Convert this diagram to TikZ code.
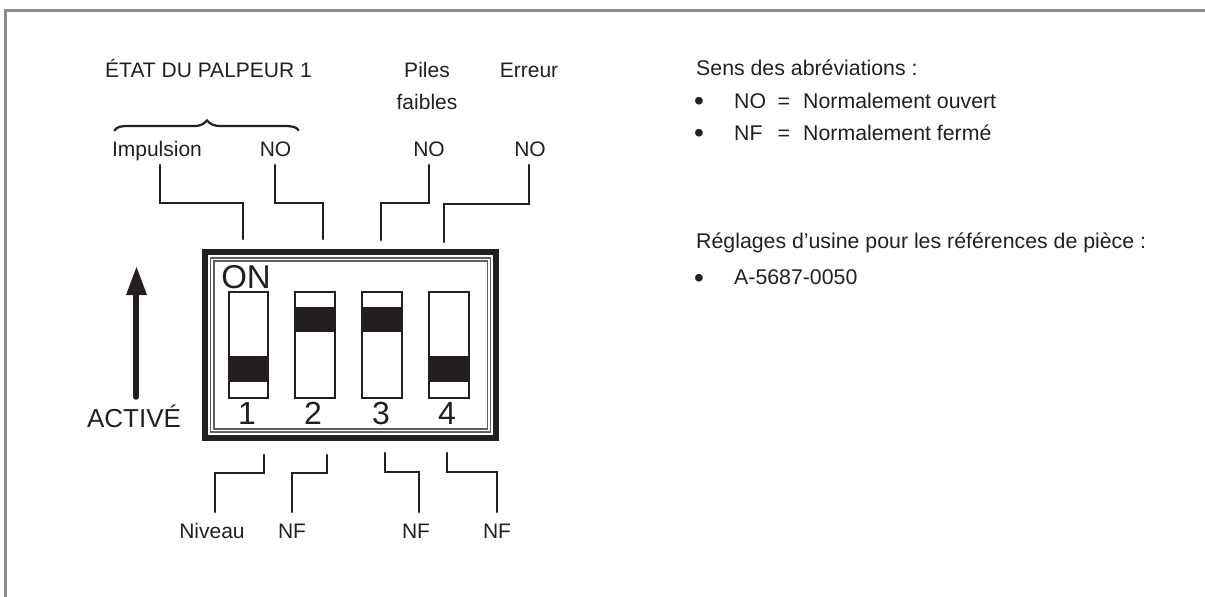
\documentclass[tikz,border=0pt]{standalone}
\usepackage{fontspec}
\setmainfont{Liberation Sans}
\usepackage{tkz-euclide}
\definecolor{TextClr}{RGB}{35,31,32}
\definecolor{FrameClr}{RGB}{140,140,140}
\definecolor{TrimClr}{RGB}{95,95,95}
\tikzset{
  LabelTxt/.style={anchor=base,inner sep=0pt,text=TextClr,font=\fontsize{21}{25}\selectfont},
  NoteTxt/.style={anchor=base west,inner sep=0pt,text=TextClr,font=\fontsize{21.3}{25}\selectfont},
  DotTxt/.style={anchor=base west,inner sep=0pt,text=TextClr,font=\fontsize{28}{32}\selectfont},
  DigitTxt/.style={anchor=base,inner sep=0pt,text=TextClr,font=\fontsize{32}{38}\selectfont},
  SwitchBox/.style={draw=TextClr,line width=2pt,fill=white},
  SliderBox/.style={fill=TextClr,draw=none},
}

\begin{document}
\begin{tikzpicture}[x=1pt,y=-1pt]
\tkzSetUpLine[line width=2.4pt,color=TextClr]
\useasboundingbox (0,0) rectangle (1205,597);

\tkzDefPoints{5.5/597/FA,5.5/10.5/FB,1205/10.5/FC}
\tkzDrawPolySeg[line width=3pt,color=FrameClr](FA,FB,FC)

\node[LabelTxt] (state) at (208.5,77) {ÉTAT DU PALPEUR 1};
\node[LabelTxt] (piles) at (427,77) {Piles};
\node[LabelTxt] (weak) at (427,109) {faibles};
\node[LabelTxt] (error) at (529,77) {Erreur};
\node[LabelTxt] (pulse) at (157,156) {Impulsion};
\node[LabelTxt] (noA) at (275.5,156) {NO};
\node[LabelTxt] (noB) at (429,156) {NO};
\node[LabelTxt] (noC) at (530,156) {NO};
\node[LabelTxt] (level) at (212,538) {Niveau};
\node[LabelTxt] (nfA) at (292,538) {NF};
\node[LabelTxt] (nfB) at (416,538) {NF};
\node[LabelTxt] (nfC) at (497,538) {NF};

\draw[line width=2.2pt,color=TextClr,line cap=round] (114.5,130.5) .. controls (117,126.5) and (122,126) .. (128,126) -- (195,126) .. controls (200,126) and (204,124) .. (207,120.5) .. controls (210,124) and (214,126) .. (220,126) -- (285,126) .. controls (292,126) and (296,127) .. (298.5,130);

\tkzDefPoints{160/165/AA,160/203/AB,243/203/AC,243/239/AD}
\tkzDefPoints{275/165/BA,275/203/BB,323/203/BC,323/239/BD}
\tkzDefPoints{429/165/CA,429/203/CB,381/203/CC,381/240/CD}
\tkzDefPoints{529/165/DA,529/204/DB,444/204/DC,444/242/DD}
\tkzDrawPolySeg(AA,AB,AC,AD)
\tkzDrawPolySeg(BA,BB,BC,BD)
\tkzDrawPolySeg(CA,CB,CC,CD)
\tkzDrawPolySeg(DA,DB,DC,DD)

\tkzDefPoints{264/455/EA,264/473/EB,215/473/EC,215/512/ED}
\tkzDefPoints{327/455/GA,327/473/GB,292/473/GC,292/512/GD}
\tkzDefPoints{385/453/HA,385/472/HB,419/472/HC,419/512/HD}
\tkzDefPoints{447/453/JA,447/472/JB,497/472/JC,497/512/JD}
\tkzDrawPolySeg(EA,EB,EC,ED)
\tkzDrawPolySeg(GA,GB,GC,GD)
\tkzDrawPolySeg(HA,HB,HC,HD)
\tkzDrawPolySeg(JA,JB,JC,JD)

\fill[TextClr] (202,249) rectangle (499,441);
\fill[white] (208,255) rectangle (493,434.5);
\draw[line width=1.6pt,color=TrimClr] (210.5,258) rectangle (490.5,432);
\draw[line width=1.6pt,color=TrimClr] (214,261) rectangle (487.5,429);

\node[DigitTxt,font=\fontsize{33}{40}\selectfont] (on) at (246,288) {ON};
\node[DigitTxt] (one) at (247,424) {1};
\node[DigitTxt] (two) at (313,424) {2};
\node[DigitTxt] (three) at (381,424) {3};
\node[DigitTxt] (four) at (447,424) {4};

\draw[SwitchBox] (228.5,291.5) rectangle (268,398);
\draw[SwitchBox] (295,291.5) rectangle (335,398);
\draw[SwitchBox] (362,291.5) rectangle (402,398);
\draw[SwitchBox] (429,291.5) rectangle (469,398);
\fill[SliderBox] (228.5,356) rectangle (268,382);
\fill[SliderBox] (295,307) rectangle (335,332);
\fill[SliderBox] (362,307) rectangle (402,332);
\fill[SliderBox] (429,356) rectangle (469,382);

\tkzDefPoints{136/397/UA,136/295/UB,126/295/UC,147/295/UD,136.5/267/UE}
\tkzDrawSegment[line width=5.5pt](UA,UB)
\tkzFillPolygon[fill=TextClr](UC,UD,UE)
\node[LabelTxt,font=\fontsize{26}{31}\selectfont] (active) at (134,427) {ACTIVÉ};

\node[NoteTxt] (meaning) at (696,75) {Sens des abréviations :};
\node[DotTxt] (dotA) at (694,110.4) {•};
\node[NoteTxt] (openA) at (734,108) {NO};
\node[NoteTxt] (openB) at (777.5,108) {=};
\node[NoteTxt] (openC) at (803,108) {Normalement ouvert};
\node[DotTxt] (dotB) at (694,142.4) {•};
\node[NoteTxt] (closedA) at (734,140) {NF};
\node[NoteTxt] (closedB) at (777.5,140) {=};
\node[NoteTxt] (closedC) at (803,140) {Normalement fermé};
\node[NoteTxt] (factory) at (696,248) {Réglages d’usine pour les références de pièce :};
\node[DotTxt] (dotC) at (694,287.4) {•};
\node[NoteTxt] (part) at (734,284) {A-5687-0050};

\end{tikzpicture}
\end{document}
